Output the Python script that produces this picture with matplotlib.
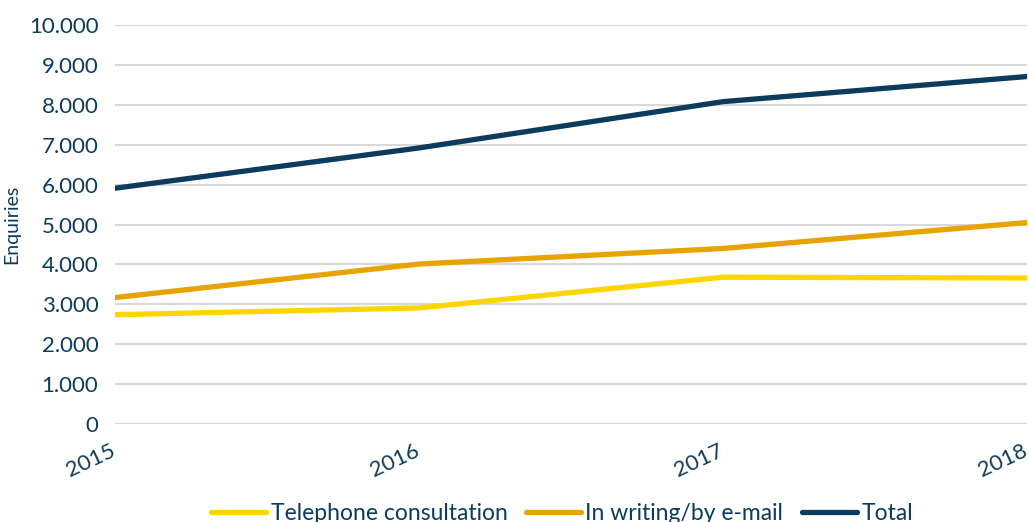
import matplotlib.pyplot as plt
import matplotlib.transforms as mtransforms
from matplotlib.ticker import FuncFormatter

years = [2015, 2016, 2017, 2018]
telephone = [2740, 2910, 3680, 3660]
writing = [3170, 4010, 4400, 5050]
total = [5910, 6920, 8080, 8710]

navy = "#0B3C5D"
plt.rcParams['font.family'] = ['Lato', 'DejaVu Sans']

fig = plt.figure(figsize=(10.29, 5.22), dpi=100)
ax = fig.add_axes([0.1118, 0.1877, 0.8862, 0.7643])

ax.plot(years, telephone, color="#FFD500", lw=3.8, label="Telephone consultation", solid_capstyle="round")
ax.plot(years, writing, color="#E8A300", lw=3.8, label="In writing/by e-mail", solid_capstyle="round")
ax.plot(years, total, color=navy, lw=3.8, label="Total", solid_capstyle="round")

ax.set_xlim(2015, 2018)
ax.set_ylim(0, 10000)
ax.set_yticks(range(0, 10001, 1000))
ax.yaxis.set_major_formatter(FuncFormatter(lambda v, p: f"{int(v):,}".replace(",", ".")))
ax.set_xticks(years)
ax.grid(axis="y", color="#D9D9D9", lw=1.5)
ax.set_axisbelow(True)
for s in ax.spines.values():
    s.set_visible(False)
ax.tick_params(length=0, labelsize=16, colors=navy)
ax.tick_params(axis="y", pad=12)
ax.tick_params(axis="x", pad=12)
ax.set_xticklabels([str(y) for y in years], rotation=25, ha="right", rotation_mode="anchor")
shift = mtransforms.ScaledTranslation(-5 / 100, 0, fig.dpi_scale_trans)
for lbl in ax.get_xticklabels():
    lbl.set_transform(lbl.get_transform() + shift)
ax.set_ylabel("Enquiries", fontsize=14, color=navy)
ax.yaxis.set_label_coords(-0.104, 0.5)

ax.legend(loc="upper center", bbox_to_anchor=(0.49, -0.175), ncol=3, frameon=False,
          fontsize=16.5, labelcolor=navy, handlelength=2.4, handletextpad=0.2,
          columnspacing=0.8, borderaxespad=0)

fig.savefig("out.png", dpi=100)
